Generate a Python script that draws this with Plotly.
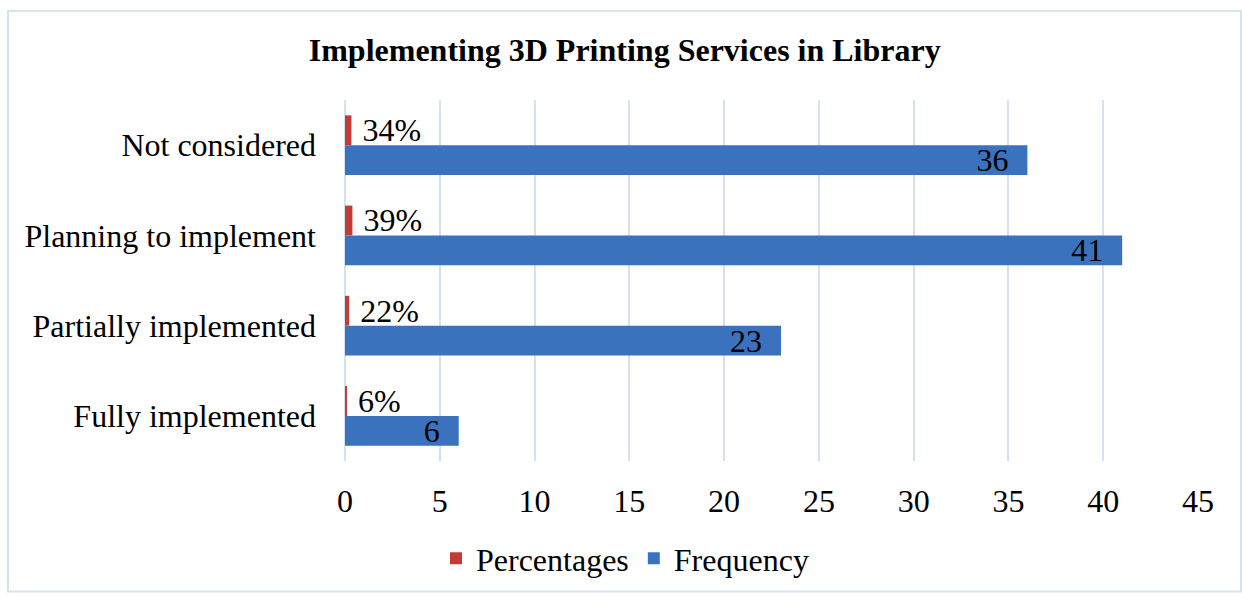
import plotly.graph_objects as go

categories = ["Fully implemented", "Partially implemented", "Planning to implement", "Not considered"]
frequency = [6, 23, 41, 36]
percentages = [0.06, 0.22, 0.39, 0.34]
pct_labels = ["6%", "22%", "39%", "34%"]
x_ticks = [0, 5, 10, 15, 20, 25, 30, 35, 40, 45]

FONT = "Liberation Serif"
FS = 32
BLUE = "#3a72be"
RED = "#c23b35"

fig = go.Figure()
fig.add_trace(go.Bar(
    y=categories, x=frequency, orientation="h", name="Frequency",
    marker=dict(color=BLUE, line=dict(width=0)),
    text=[f"{v}\u00a0\u00a0" for v in frequency],
    textposition="inside", insidetextanchor="end", constraintext="none", textangle=0,
    textfont=dict(family=FONT, size=FS, color="black"),
    legendrank=2, cliponaxis=False,
))
fig.add_trace(go.Bar(
    y=categories, x=percentages, orientation="h", name="Percentages",
    marker=dict(color=RED, line=dict(width=0)),
    text=["\u00a0" + t for t in pct_labels],
    textposition="outside", constraintext="none", textangle=0,
    textfont=dict(family=FONT, size=FS, color="black"),
    legendrank=1, cliponaxis=False,
))

fig.update_layout(
    width=1242, height=598,
    barmode="group", bargap=0.34, bargroupgap=0,
    paper_bgcolor="white", plot_bgcolor="white",
    margin=dict(l=345, r=44, t=100, b=133),
    font=dict(family=FONT, size=FS, color="black"),
    title=dict(text="<b>Implementing 3D Printing Services in Library</b>",
               x=0.503, xanchor="center", y=0.916, yanchor="middle",
               font=dict(family=FONT, size=FS, color="black")),
    legend=dict(orientation="h", x=(625 - 345) / 853, xanchor="center", y=-0.27, yanchor="middle",
                font=dict(family=FONT, size=FS), itemwidth=30, traceorder="normal"),
    showlegend=True,
)
fig.update_xaxes(range=[0, 45], tickvals=x_ticks, showgrid=True, gridcolor="#d5e1f0", gridwidth=2,
                 zeroline=True, zerolinecolor="#d5e1f0", zerolinewidth=2, showline=False,
                 ticks="", ticklabelstandoff=18, tickfont=dict(family=FONT, size=FS))
fig.update_yaxes(categoryorder="array", categoryarray=categories, showgrid=False, showline=False,
                 ticks="", ticklabelstandoff=28, tickfont=dict(family=FONT, size=FS))

fig.add_shape(type="rect", xref="paper", yref="paper",
              x0=(8 - 345) / 853, x1=(1241 - 345) / 853,
              y0=(465 - 597) / 365, y1=(465 - 10) / 365,
              line=dict(color="#d6e3f2", width=2), fillcolor="rgba(0,0,0,0)", layer="below")

fig.write_html("out.html")
